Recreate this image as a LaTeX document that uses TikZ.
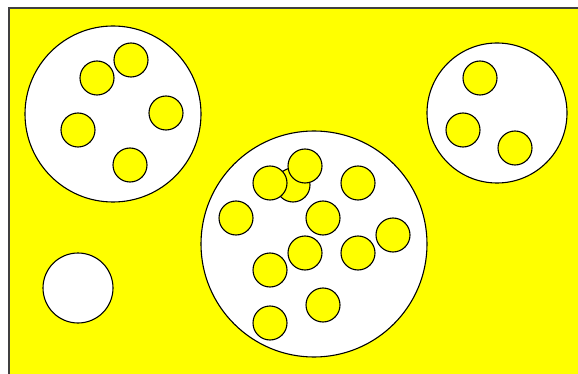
\documentclass[tikz,border=0pt]{standalone}
\begin{document}
\definecolor{yel}{RGB}{255,255,0}
\begin{tikzpicture}[x=1pt,y=-1pt,
  bigc/.style={circle,draw=black,fill=white,line width=1.1pt,inner sep=0pt},
  dot/.style={circle,draw=black,fill=yel,line width=1.1pt,inner sep=0pt,minimum size=34pt},
  hole/.style={circle,draw=black,fill=white,line width=1.1pt,inner sep=0pt,minimum size=70pt}]
\useasboundingbox (0,0) rectangle (578,374);
\clip (0,0) rectangle (578,374);
\fill[white] (0,0) rectangle (578,374);
\draw[fill=yel,line width=1.1pt,draw=black!75] (9,8) rectangle (600,400);
% left big circle
\node[bigc,minimum size=176pt] (A) at (113,114) {};
\node[dot] (a1) at (97,78) {};
\node[dot] (a2) at (131,60) {};
\node[dot] (a3) at (166,113) {};
\node[dot] (a4) at (78,130) {};
\node[dot] (a5) at (130,165) {};
% right circle
\node[bigc,minimum size=140pt] (C) at (497,113) {};
\node[dot] (c1) at (480,78) {};
\node[dot] (c2) at (463,130) {};
\node[dot] (c3) at (515,148) {};
% empty circle
\node[hole] (D) at (78,288) {};
% center big circle
\node[bigc,minimum size=226pt] (B) at (314,244) {};
\node[dot] (b0) at (293,185) {};
\node[dot] (b1) at (270,183) {};
\node[dot] (b2) at (305,166) {};
\node[dot] (b3) at (358,183) {};
\node[dot] (b4) at (236,218) {};
\node[dot] (b5) at (323,218) {};
\node[dot] (b6) at (393,235) {};
\node[dot] (b7) at (305,253) {};
\node[dot] (b8) at (358,253) {};
\node[dot] (b9) at (270,270) {};
\node[dot] (b10) at (323,305) {};
\node[dot] (b11) at (270,323) {};
\end{tikzpicture}
\end{document}
